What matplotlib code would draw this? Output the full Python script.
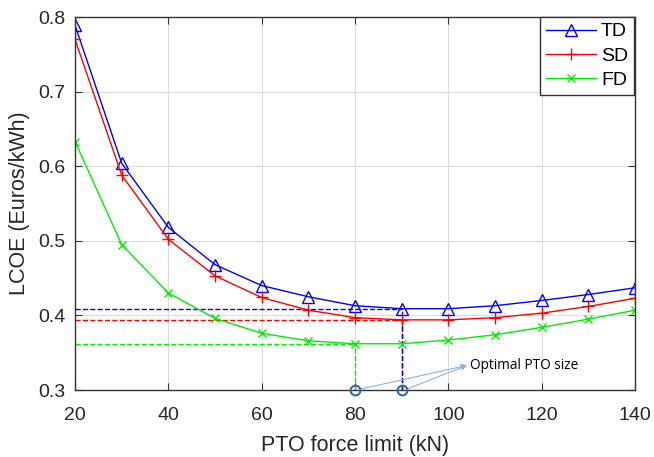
import matplotlib
matplotlib.use('Agg')
import matplotlib.pyplot as plt
import numpy as np

# PTO force limit (kN)
force = [20, 30, 40, 50, 60, 70, 80, 90, 100, 110, 120, 130, 140]
lcoe_td = [0.789, 0.604, 0.518, 0.468, 0.440, 0.425, 0.413, 0.409, 0.409, 0.413, 0.420, 0.428, 0.437]
lcoe_sd = [0.770, 0.588, 0.502, 0.453, 0.424, 0.407, 0.397, 0.394, 0.394, 0.397, 0.403, 0.412, 0.423]
lcoe_fd = [0.633, 0.495, 0.430, 0.396, 0.376, 0.366, 0.362, 0.362, 0.367, 0.374, 0.384, 0.395, 0.407]

# optimal sizes
opt_td = 90
opt_sd = 90
opt_fd = 80

green = '#00ee00'
plt.rcParams['font.family'] = ['Liberation Sans', 'DejaVu Sans']

fig = plt.figure(figsize=(6.54, 4.57), dpi=100)
ax = fig.add_axes([0.1147, 0.1466, 0.8563, 0.8162])

y0 = 0.3
for opt, vals, col in [(opt_td, lcoe_td, 'blue'), (opt_sd, lcoe_sd, 'red'), (opt_fd, lcoe_fd, green)]:
    yv = vals[force.index(opt)]
    ax.plot([force[0], opt], [yv, yv], '--', color=col, lw=1)

# vertical guides (blue drawn over red at 90)
ax.plot([opt_fd, opt_fd], [y0, lcoe_fd[force.index(opt_fd)]], '--', color=green, lw=1)
ax.plot([opt_sd, opt_sd], [y0, lcoe_sd[force.index(opt_sd)]], '--', color='red', lw=1)
ax.plot([opt_td, opt_td], [y0, lcoe_td[force.index(opt_td)]], '--', color='blue', lw=1)

ax.plot(force, lcoe_td, '-^', color='blue', lw=1, ms=9, mfc='none', mew=1, label='TD')
ax.plot(force, lcoe_sd, '-+', color='red', lw=1, ms=9, mew=1, label='SD')
ax.plot(force, lcoe_fd, '-x', color=green, lw=1, ms=6, mew=1, label='FD')

# circles marking the optimum
for xo in [opt_fd, opt_td]:
    ax.plot(xo, y0, 'o', ms=7, mfc='none', mec='#3a6a9a', mew=1.5, clip_on=False, zorder=5)
    ax.annotate('', xy=(104.0, 0.333), xytext=(xo + 1, y0 + 0.001),
                arrowprops=dict(arrowstyle='-|>', color='#8ab4de', lw=0.8,
                                mutation_scale=8, shrinkA=0, shrinkB=0),
                annotation_clip=False)
ax.text(104.6, 0.333, 'Optimal PTO size', fontsize=9.8, va='center', ha='left',
        family=['Open Sans', 'DejaVu Sans'])

ax.set_xlim(20, 140)
ax.set_ylim(0.3, 0.8)
ax.set_xticks(np.arange(20, 141, 20))
ax.set_yticks(np.arange(0.3, 0.81, 0.1))
ax.set_yticklabels(['0.3', '0.4', '0.5', '0.6', '0.7', '0.8'])
ax.grid(True, color='#dcdcdc', lw=0.8)
ax.set_axisbelow(True)
ax.tick_params(direction='in', labelsize=14, length=5, color='#333333', labelcolor='#262626',
               top=True, right=True, labeltop=False, labelright=False)
ax.tick_params(axis='x', pad=12)
ax.tick_params(axis='y', pad=7)
for s in ax.spines.values():
    s.set_color('#333333')
    s.set_linewidth(1)

ax.set_xlabel('PTO force limit (kN)', fontsize=15.5, color='#262626', labelpad=8)
ax.set_ylabel('LCOE (Euros/kWh)', fontsize=15.5, color='#262626', labelpad=6)

leg = ax.legend(loc='upper right', fontsize=14, fancybox=False, framealpha=1,
                edgecolor='#333333', handlelength=2.6, borderaxespad=0.0,
                bbox_to_anchor=(0.998, 1.0), labelspacing=0.35, handletextpad=0.25,
                borderpad=0.3)
leg.get_frame().set_linewidth(1)

fig.savefig('out.png', dpi=100)
